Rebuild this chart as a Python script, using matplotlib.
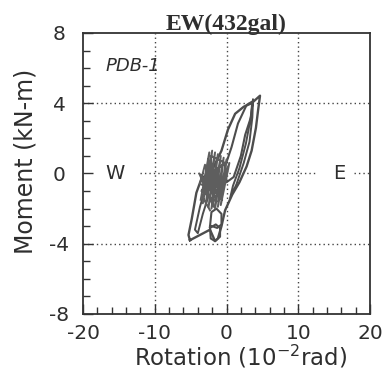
import matplotlib
matplotlib.use("Agg")
import matplotlib.pyplot as plt
import numpy as np

plt.rcParams["axes.unicode_minus"] = False

# ---- data (rotation in 1e-2 rad, moment in kN-m) ----
outer_rot = [-5.1, -5.3, -4.85, -4.2, -3.5, -2.6, -2.0, -0.7, 0.2, 1.2, 2.4, 3.5, 4.67,
             4.4, 4.1, 3.5, 2.8, 1.8, 0.8, -0.2, -0.7, -1.2, -1.6, -2.3, -3.7, -5.1]
outer_mom = [-3.8, -3.5, -2.6, -1.1, -0.3, 0.0, 0.2, 1.3, 2.5, 3.4, 3.8, 4.0, 4.43,
             3.6, 2.6, 1.3, 0.4, -0.5, -1.2, -2.1, -3.0, -3.7, -3.85, -3.2, -3.5, -3.8]

mid_rot = [-0.2, 0.7, 1.6, 2.8, 3.6, 3.4, 2.6, 2.0, 1.0, 0.0, -0.2]
mid_mom = [0.4, 1.5, 2.85, 3.9, 4.1, 3.2, 2.2, 1.0, -0.2, -0.5, 0.4]

narrow_rot = [3.7, 3.6, 3.2, 2.4, 1.4, 0.5, 0.9, 1.8, 2.7, 3.3, 3.7]
narrow_mom = [4.2, 3.2, 1.8, 0.6, -0.6, -1.4, -0.7, 0.3, 1.7, 3.0, 4.2]

small1_rot = [-2.3, -2.1, -1.4, -0.7, -0.7, -1.3, -2.0, -2.3]
small1_mom = [-3.0, -2.2, -2.0, -2.3, -2.9, -3.1, -3.0, -3.0]

small2_rot = [-2.3, -2.2, -1.6, -0.9, -0.9, -1.5, -2.3]
small2_mom = [-3.1, -3.7, -3.85, -3.6, -3.1, -2.9, -3.1]

stroke_rot = [-3.0, -3.7, -4.4, -4.0, -3.3, -2.6]
stroke_mom = [-0.9, -1.9, -3.2, -3.4, -2.3, -1.4]

blob_rot = [-3.6, -2.4, -3.3, -2.0, -2.9, -1.6, -2.5, -1.2, -2.1, -0.8, -1.6, -0.4, -1.2, 0.0,
            -0.8, 0.4, -1.0, -3.7, -3.0, -1.4, -3.5, -0.9, -2.8, -0.2, -2.2, -1.8, -3.8, -0.6,
            -2.6, -1.0, -3.4, -2.3]
blob_mom = [-1.5, 1.2, -1.7, 1.3, -1.8, 1.2, -1.9, 1.1, -2.0, 1.0, -2.0, 0.9, -1.9, 0.8,
            -1.8, 0.6, -1.0, -0.6, 0.5, -1.6, -1.0, 0.4, -0.2, 0.6, 1.0, -1.9, 0.0, -1.5,
            0.8, -0.4, -1.3, -2.1]

x_ticks = [-20, -10, 0, 10, 20]
y_ticks = [-8, -4, 0, 4, 8]

# ---- figure ----
fig = plt.figure(figsize=(3.89, 3.73), dpi=100)
ax = fig.add_axes([0.2134, 0.1582, 0.7378, 0.7534])

line_col = "#4d4d4d"
for xs, ys, lw, c in [(outer_rot, outer_mom, 1.7, line_col), (mid_rot, mid_mom, 1.5, line_col),
                      (narrow_rot, narrow_mom, 1.4, line_col), (small1_rot, small1_mom, 1.5, line_col),
                      (small2_rot, small2_mom, 1.5, line_col), (stroke_rot, stroke_mom, 1.4, line_col),
                      (blob_rot, blob_mom, 1.4, "#5e5e5e")]:
    ax.plot(xs, ys, color=c, lw=lw, zorder=3, solid_joinstyle="round")

ax.set_xlim(-20, 20)
ax.set_ylim(-8, 8)
ax.set_xticks(x_ticks)
ax.set_yticks(y_ticks)
ax.set_xticks(np.arange(-20, 21, 2), minor=True)
ax.set_yticks(np.arange(-8, 9, 1), minor=True)

dot = dict(color="#444444", lw=1.0, ls=(0, (1, 2.2)), zorder=1)
for gx in [-10, 0, 10]:
    ax.axvline(gx, **dot)
for gy in [-4, 4]:
    ax.axhline(gy, **dot)
ax.plot([-12, 12.3], [0, 0], **dot)
ax.plot([17.8, 20], [0, 0], **dot)

txt_col = "#2e2e2e"
ax.tick_params(which="both", direction="in", top=False, right=False, width=1.0, color="#333333")
ax.tick_params(which="major", length=7)
ax.tick_params(which="minor", length=5)
ax.tick_params(axis="x", which="major", pad=7, labelsize=14.5, labelcolor=txt_col)
ax.tick_params(axis="y", which="major", pad=17, labelsize=14.5, labelcolor=txt_col)
for lab in ax.get_yticklabels():
    lab.set_horizontalalignment("center")

for s in ax.spines.values():
    s.set_linewidth(1.3)
    s.set_color("#333333")

ax.text(0, 8.15, "EW(432gal)", ha="center", va="baseline", fontsize=17,
        family="Liberation Serif", fontweight="bold", color=txt_col)
ax.text(-16.9, 6.1, "PDB-1", ha="left", va="center", fontsize=13, style="italic", color=txt_col)
ax.text(-15.5, 0, "W", ha="center", va="center", fontsize=14, color=txt_col)
ax.text(15.7, 0, "E", ha="center", va="center", fontsize=14, color=txt_col)

fig.text(26 / 389, 1 - 161 / 373, "Moment (kN-m)", rotation=90, ha="center", va="center",
         fontsize=17, color=txt_col)
fig.text(241 / 389, 1 - 357 / 373, r"Rotation (10$^{-2}$rad)", ha="center", va="center",
         fontsize=16.5, color=txt_col)

fig.savefig("out.png", dpi=100)
